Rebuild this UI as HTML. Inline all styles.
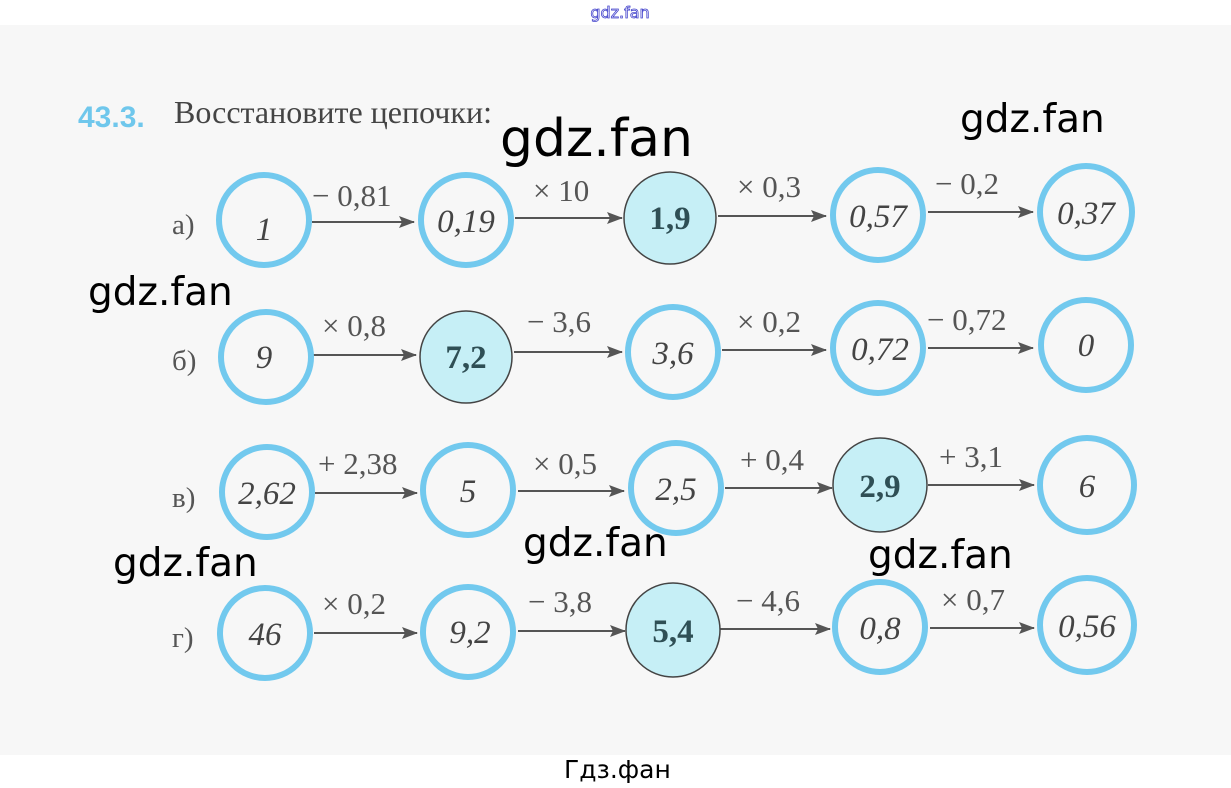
<!DOCTYPE html>
<html><head><meta charset="utf-8"><style>
html,body{margin:0;padding:0;background:#fff;}
svg{display:block;}
.lbl{font-family:"Liberation Serif",serif;fill:#555;font-size:31px;}
.row{font-family:"Liberation Serif",serif;fill:#555;font-size:29px;}
.hw{font-family:"Liberation Serif",serif;font-style:italic;fill:#444;font-size:33px;}
.bold{font-family:"Liberation Serif",serif;font-weight:bold;fill:#2f4f55;font-size:33px;}
.wm{font-family:"DejaVu Sans","Liberation Sans",sans-serif;fill:#000;}
</style></head><body>
<svg width="1231" height="788" viewBox="0 0 1231 788" xmlns="http://www.w3.org/2000/svg">
<defs><marker id="ar" markerWidth="16" markerHeight="12" refX="15" refY="6" orient="auto" markerUnits="userSpaceOnUse"><path d="M0,0 L16,6 L0,12 L3,6 Z" fill="#555"/></marker></defs>
<rect x="0" y="25" width="1231" height="730" fill="#f7f7f7"/>
<text x="620" y="18" text-anchor="middle" style="font-family:'DejaVu Sans',sans-serif;font-size:16px" fill="#fff" stroke="#4444cc" stroke-width="0.8">gdz.fan</text>
<text x="78" y="127" style="font-family:'Liberation Sans',sans-serif;font-weight:bold;font-size:30px" fill="#6fc7ec">43.3.</text>
<text x="174" y="123" style="font-family:'Liberation Serif',serif;font-size:32px" fill="#444">Восстановите цепочки:</text>

<g class="row">
<text x="172" y="234">а)</text><text x="172" y="370">б)</text><text x="172" y="507">в)</text><text x="172" y="647">г)</text>
</g>

<g stroke="#555" stroke-width="2" marker-end="url(#ar)">
<line x1="312" y1="222" x2="414" y2="222"/>
<line x1="515" y1="218" x2="622" y2="218"/>
<line x1="718" y1="216" x2="826" y2="216"/>
<line x1="928" y1="212" x2="1033" y2="212"/>
<line x1="313" y1="355" x2="416" y2="355"/>
<line x1="514" y1="352" x2="622" y2="352"/>
<line x1="722" y1="350" x2="826" y2="350"/>
<line x1="928" y1="348" x2="1033" y2="348"/>
<line x1="315" y1="493" x2="417" y2="493"/>
<line x1="518" y1="491" x2="624" y2="491"/>
<line x1="725" y1="488" x2="832" y2="488"/>
<line x1="928" y1="485" x2="1034" y2="485"/>
<line x1="314" y1="633" x2="417" y2="633"/>
<line x1="518" y1="631" x2="625" y2="631"/>
<line x1="720" y1="629" x2="830" y2="629"/>
<line x1="930" y1="628" x2="1034" y2="628"/>
</g>

<g class="lbl">
<text x="312" y="206">− 0,81</text>
<text x="533" y="201">× 10</text>
<text x="737" y="197">× 0,3</text>
<text x="935" y="194">− 0,2</text>
<text x="322" y="336">× 0,8</text>
<text x="527" y="332">− 3,6</text>
<text x="737" y="332">× 0,2</text>
<text x="927" y="330">− 0,72</text>
<text x="318" y="474">+ 2,38</text>
<text x="533" y="474">× 0,5</text>
<text x="740" y="470">+ 0,4</text>
<text x="939" y="467">+ 3,1</text>
<text x="322" y="614">× 0,2</text>
<text x="528" y="612">− 3,8</text>
<text x="736" y="611">− 4,6</text>
<text x="941" y="610">× 0,7</text>
</g>

<g fill="none" stroke="#72c9ee" stroke-width="6">
<circle cx="264" cy="220" r="45"/><circle cx="466" cy="220" r="45"/><circle cx="878" cy="215" r="45"/><circle cx="1086" cy="212" r="46"/>
<circle cx="266" cy="357" r="45"/><circle cx="673" cy="352" r="45"/><circle cx="878" cy="348" r="45"/><circle cx="1086" cy="345" r="45"/>
<circle cx="267" cy="492" r="45"/><circle cx="468" cy="490" r="45"/><circle cx="676" cy="488" r="45"/><circle cx="1087" cy="485" r="47"/>
<circle cx="265" cy="633" r="45"/><circle cx="468" cy="632" r="45"/><circle cx="880" cy="627" r="45"/><circle cx="1087" cy="625" r="47"/>
</g>
<g fill="#c6eff6" stroke="#444" stroke-width="1.5">
<circle cx="670" cy="218" r="46"/><circle cx="466" cy="357" r="46"/><circle cx="880" cy="485" r="47"/><circle cx="673" cy="630" r="47"/>
</g>
<g class="bold" text-anchor="middle">
<text x="670" y="229">1,9</text><text x="466" y="368">7,2</text><text x="880" y="497">2,9</text><text x="673" y="642">5,4</text>
</g>
<g class="hw" text-anchor="middle">
<text x="264" y="240">1</text><text x="466" y="232">0,19</text><text x="878" y="227">0,57</text><text x="1086" y="224">0,37</text>
<text x="264" y="368">9</text><text x="673" y="364">3,6</text><text x="880" y="360">0,72</text><text x="1086" y="356">0</text>
<text x="267" y="504">2,62</text><text x="468" y="502">5</text><text x="676" y="500">2,5</text><text x="1087" y="497">6</text>
<text x="265" y="645">46</text><text x="470" y="643">9,2</text><text x="880" y="639">0,8</text><text x="1087" y="637">0,56</text>
</g>

<g class="wm">
<text x="500" y="156" style="font-size:52px">gdz.fan</text>
<text x="960" y="132" style="font-size:39px">gdz.fan</text>
<text x="88" y="305" style="font-size:39px">gdz.fan</text>
<text x="113" y="576" style="font-size:39px">gdz.fan</text>
<text x="523" y="556" style="font-size:39px">gdz.fan</text>
<text x="868" y="568" style="font-size:39px">gdz.fan</text>
<text x="564" y="778" style="font-size:25px">Гдз.фан</text>
</g>
</svg>
</body></html>
